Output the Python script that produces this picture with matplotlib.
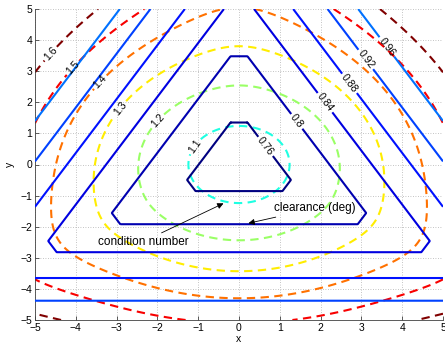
# Contour chart: condition number (dashed) and clearance (solid) over the x-y workspace.
# Both fields have the three-fold symmetry of the triangular layout; the level
# radii below were read off the reference picture.

import numpy as np
import matplotlib
matplotlib.use('Agg')
import matplotlib.pyplot as plt
from matplotlib.colors import Normalize, LinearSegmentedColormap

# --- data ---
COND_LEVELS = [1.1, 1.2, 1.3, 1.4, 1.5, 1.6]
COND_RADII = [1.24, 2.485, 3.59, 4.6, 5.57, 6.45]        # effective radius of each dashed contour
CLEAR_LEVELS = [0.76, 0.80, 0.84, 0.88, 0.92, 0.96]
CLEAR_SIDE_DIST = [0.855, 1.92, 2.82, 3.65, 4.38, 5.03]  # distance of triangle sides from centre

COND_LABEL_POS = [(-1.13, 0.63), (-2.0, 1.4), (-2.96, 1.86), (-3.41, 2.66), (-4.1, 3.14), (-4.63, 3.58)]
CLEAR_LABEL_POS = [(0.64, 0.57), (1.41, 1.38), (2.19, 2.07), (2.76, 2.66), (3.09, 3.36), (3.58, 3.74)]

TICKS = list(range(-5, 6))

# shape parameters of the two fields
CORNER_CUT = 0.12        # size of the cut corners on the clearance triangles
BLEND_SLOPE = 0.105      # how fast the dashed contours turn from circles to triangles
BLEND_START = 1.7
SOFT_POW = 4

S3 = np.sqrt(3) / 2

# MATLAB style jet (the two contour sets share one colour scale)
MATLAB_JET = LinearSegmentedColormap('mjet', {
    'red': [(0, 0, 0), (0.375, 0, 0), (0.625, 1, 1), (0.875, 1, 1), (1, 0.5, 0.5)],
    'green': [(0, 0, 0), (0.125, 0, 0), (0.375, 1, 1), (0.625, 1, 1), (0.875, 0, 0), (1, 0, 0)],
    'blue': [(0, 0.5, 0.5), (0.125, 1, 1), (0.375, 1, 1), (0.625, 0, 0), (1, 0, 0)],
})


def gauges(x, y):
    a = -y
    b = S3 * x + 0.5 * y
    c = -S3 * x + 0.5 * y
    up = np.maximum(a, np.maximum(b, c))
    down = np.maximum(y, np.maximum(S3 * x - 0.5 * y, -S3 * x - 0.5 * y))
    pos = [np.clip(v, 0, None) ** SOFT_POW for v in (a, b, c)]
    up_soft = (pos[0] + pos[1] + pos[2]) ** (1.0 / SOFT_POW)
    return up, down, up_soft


def main():
    xs = np.linspace(-5, 5, 601)
    X, Y = np.meshgrid(xs, xs)
    up, down, up_soft = gauges(X, Y)

    # clearance: up-triangle with small constant corner cuts
    clear_field = np.maximum(up - 2 * CORNER_CUT, (down - CORNER_CUT) / 2)
    clear_vals = [d - 2 * CORNER_CUT for d in CLEAR_SIDE_DIST]

    # condition number: circle near the centre, rounded triangle further out
    r = np.hypot(X, Y)
    w = np.clip(BLEND_SLOPE * (r - BLEND_START), 0, None)
    k = 2.0 / (1.0 + 2 ** (1.0 / SOFT_POW) / 2)
    cond_field = (1 - w) * r + k * w * up_soft

    norm = Normalize(vmin=min(CLEAR_LEVELS), vmax=max(COND_LEVELS))
    cond_colors = [MATLAB_JET(norm(v)) for v in COND_LEVELS]
    clear_colors = [MATLAB_JET(norm(v)) for v in CLEAR_LEVELS]

    plt.rcParams['font.family'] = ['Liberation Sans', 'DejaVu Sans']
    fig = plt.figure(figsize=(4.45, 3.5), dpi=100)
    ax = fig.add_axes([35 / 445, 30 / 350, 408 / 445, 311 / 350])

    cs_cond = ax.contour(X, Y, cond_field, levels=COND_RADII, colors=cond_colors,
                         linewidths=1.5, zorder=2)
    cs_cond.set_linestyle((0, (4, 2.6)))
    cs_clear = ax.contour(X, Y, clear_field, levels=clear_vals, colors=clear_colors,
                          linewidths=1.5, linestyles='solid', zorder=3)

    fmt_cond = {lv: '{:g}'.format(v) for lv, v in zip(cs_cond.levels, COND_LEVELS)}
    fmt_clear = {lv: '{:g}'.format(v) for lv, v in zip(cs_clear.levels, CLEAR_LEVELS)}
    ax.clabel(cs_cond, fmt=fmt_cond, manual=COND_LABEL_POS, inline=True,
              inline_spacing=2, fontsize=7.5, colors='k')
    ax.clabel(cs_clear, fmt=fmt_clear, manual=CLEAR_LABEL_POS, inline=True,
              inline_spacing=2, fontsize=7.5, colors='k')

    arrow = dict(arrowstyle='-|>', color='k', lw=0.6, mutation_scale=9, shrinkA=0, shrinkB=0)
    ax.annotate('condition number', xy=(-0.38, -1.25), xytext=(-2.35, -2.48),
                ha='center', va='center', fontsize=8.5, arrowprops=arrow, zorder=5)
    ax.annotate('clearance (deg)', xy=(0.23, -1.89), xytext=(1.86, -1.41),
                ha='center', va='center', fontsize=8.5, arrowprops=arrow, zorder=5)

    ax.set_xlim(-5, 5)
    ax.set_ylim(-5, 5)
    ax.set_xticks(TICKS)
    ax.set_yticks(TICKS)
    ax.tick_params(labelsize=7.5, direction='in', length=3, width=0.6, colors='#404040',
                   labelcolor='k', pad=2)
    ax.grid(True, linestyle=(0, (1, 2)), color='#b0b0b0', lw=0.6)
    for side in ['top', 'right']:
        ax.spines[side].set_visible(False)
    for side in ['left', 'bottom']:
        ax.spines[side].set_color('#404040')
        ax.spines[side].set_linewidth(0.6)
    ax.set_xlabel('x', fontsize=7.5, labelpad=1)
    ax.set_ylabel('y', fontsize=7.5, labelpad=4)

    fig.savefig('out.png', dpi=100)
    plt.close(fig)


if __name__ == "__main__":
    main()
